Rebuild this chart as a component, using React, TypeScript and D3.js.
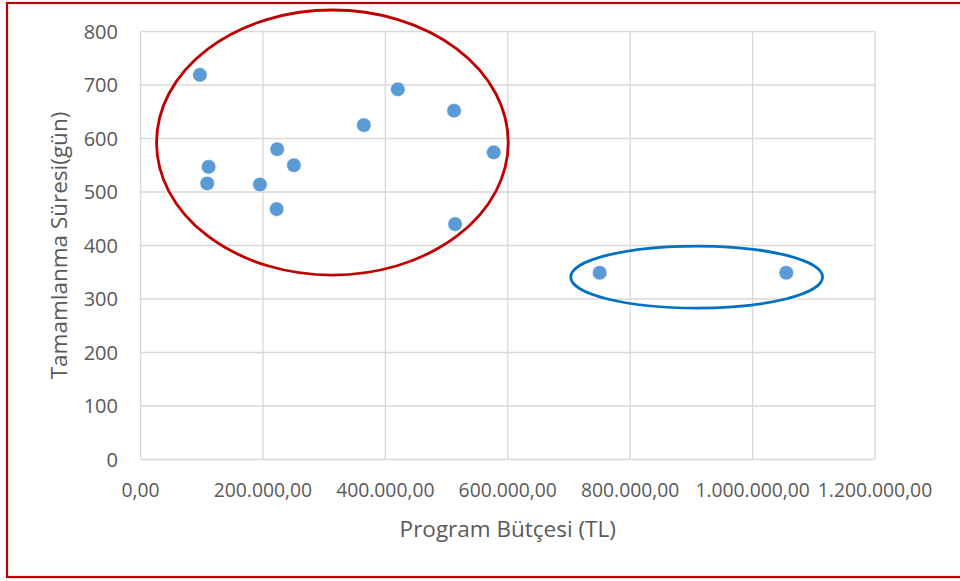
import React from "react";
import * as d3 from "d3";

const budgets = [97000, 111300, 109000, 195100, 223300, 250600, 222400, 364900, 420400, 512300, 577100, 514000, 750200, 1055000];
const durations = [719, 547, 516, 514, 580, 550, 468, 625, 692, 652, 574, 440, 349, 349];
const xTicks = [0, 200000, 400000, 600000, 800000, 1000000, 1200000];
const yTicks = [0, 100, 200, 300, 400, 500, 600, 700, 800];
const xTitle = "Program Bütçesi (TL)";
const yTitle = "Tamamlanma Süresi(gün)";
// annotation ellipses in data units: [cx, cy, rx, ry]
const groupEllipses = [
  { c: [313500, 592.5], r: [287300, 247.7], color: "#C00000" },
  { c: [908600, 341], r: [205700, 58], color: "#0070C0" },
];

const W = 960, H = 581;
const left = 140.5, right = 875, top = 31.5, bottom = 459.5;
const font = "'Open Sans', 'Noto Sans', sans-serif";
const textColor = "#595959";

const fmt = (v: number) => {
  const s = d3.format(",.2f")(v);
  return s.replace(/,/g, "#").replace(/\./g, ",").replace(/#/g, ".");
};

export default function App() {
  const x = d3.scaleLinear().domain([0, 1200000]).range([left, right]);
  const y = d3.scaleLinear().domain([0, 800]).range([bottom, top]);
  return (
    <svg width={W} height={H} style={{ position: "absolute", left: 0, top: 0, background: "#fff" }}>
      <rect x={0} y={0} width={W} height={H} fill="#fff" />
      <rect x={7} y={3} width={W + 10} height={574} fill="none" stroke="#C00000" strokeWidth={2.2} />
      {xTicks.map((t) => (
        <line key={"gx" + t} x1={x(t)} x2={x(t)} y1={top} y2={bottom} stroke="#D9D9D9" strokeWidth={1.3} />
      ))}
      {yTicks.map((t) => (
        <line key={"gy" + t} x1={left} x2={right} y1={y(t)} y2={y(t)} stroke="#D9D9D9" strokeWidth={1.3} />
      ))}
      {yTicks.map((t) => (
        <text key={"ty" + t} x={118} y={y(t)} dy="0.36em" textAnchor="end" fontFamily={font} fontSize={20} fill={textColor}>
          {t}
        </text>
      ))}
      {xTicks.map((t) => (
        <text key={"tx" + t} x={x(t)} y={497} textAnchor="middle" fontFamily={font} fontSize={19.3} fill={textColor}>
          {fmt(t)}
        </text>
      ))}
      <text x={(left + right) / 2} y={537} textAnchor="middle" fontFamily={font} fontSize={22.5} fill={textColor}>
        {xTitle}
      </text>
      <text
        transform={`translate(67,${(top + bottom) / 2}) rotate(-90)`}
        textAnchor="middle"
        fontFamily={font}
        fontSize={22.5}
        fill={textColor}
      >
        {yTitle}
      </text>
      {budgets.map((b, i) => (
        <circle key={"p" + i} cx={x(b)} cy={y(durations[i])} r={7.3} fill="#5B9BD5" stroke="#fff" strokeWidth={0.6} />
      ))}
      {groupEllipses.map((e, i) => (
        <ellipse
          key={"e" + i}
          cx={x(e.c[0])}
          cy={y(e.c[1])}
          rx={x(e.r[0]) - x(0)}
          ry={y(0) - y(e.r[1])}
          fill="none"
          stroke={e.color}
          strokeWidth={2.8}
        />
      ))}
    </svg>
  );
}
